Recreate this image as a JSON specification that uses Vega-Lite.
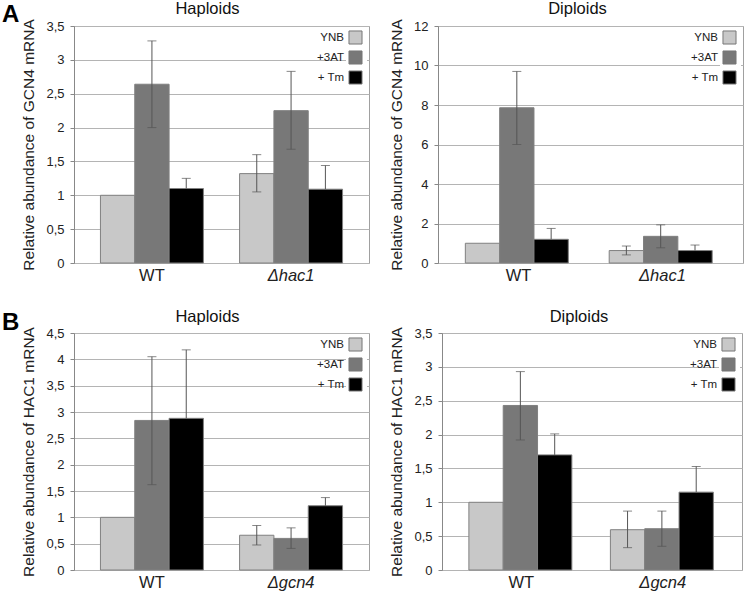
{
  "$schema": "https://vega.github.io/schema/vega-lite/v6.json",
  "padding": {"left": 2, "top": 0, "right": 2, "bottom": 0},
  "config": {
    "font": "Liberation Sans",
    "view": {"stroke": "#a0a0a0", "strokeWidth": 1},
    "axis": {"labelColor": "#222", "titleColor": "#222", "titleFontWeight": "normal", "gridColor": "#b4b4b4", "domainColor": "#888", "tickColor": "#888"},
    "axisY": {"labelFontSize": 13, "titleFontSize": 15.5, "tickSize": 4, "labelPadding": 6, "titlePadding": 9, "grid": true},
    "axisX": {"labelFontSize": 16.5, "ticks": false, "labelAngle": 0, "title": null, "grid": false, "labelPadding": 4, "domain": false},
    "title": {"fontSize": 16.5, "fontWeight": "normal", "color": "#111", "offset": 1},
    "legend": {
      "orient": "top-right", "offset": 2, "padding": 2, "fillColor": "white",
      "symbolType": "square", "symbolSize": 170, "symbolStrokeColor": "#777", "symbolStrokeWidth": 1,
      "labelFontSize": 11.5, "labelColor": "#222", "rowPadding": 1, "title": null,
      "labelAlign": "right", "labelOffset": -19
    }
  },
  "datasets": {
    "aHap": [
      {"strain": "WT", "cond": "YNB", "value": 1.0, "lo": null, "hi": null},
      {"strain": "WT", "cond": "+3AT", "value": 2.64, "lo": 2.0, "hi": 3.28},
      {"strain": "WT", "cond": "+ Tm", "value": 1.10, "lo": 1.10, "hi": 1.25},
      {"strain": "Δhac1", "cond": "YNB", "value": 1.32, "lo": 1.05, "hi": 1.60},
      {"strain": "Δhac1", "cond": "+3AT", "value": 2.25, "lo": 1.68, "hi": 2.83},
      {"strain": "Δhac1", "cond": "+ Tm", "value": 1.09, "lo": 1.09, "hi": 1.44}
    ],
    "aDip": [
      {"strain": "WT", "cond": "YNB", "value": 1.0, "lo": null, "hi": null},
      {"strain": "WT", "cond": "+3AT", "value": 7.86, "lo": 6.0, "hi": 9.70},
      {"strain": "WT", "cond": "+ Tm", "value": 1.20, "lo": 1.20, "hi": 1.75},
      {"strain": "Δhac1", "cond": "YNB", "value": 0.63, "lo": 0.41, "hi": 0.86},
      {"strain": "Δhac1", "cond": "+3AT", "value": 1.35, "lo": 0.77, "hi": 1.93},
      {"strain": "Δhac1", "cond": "+ Tm", "value": 0.63, "lo": 0.63, "hi": 0.91}
    ],
    "bHap": [
      {"strain": "WT", "cond": "YNB", "value": 1.0, "lo": null, "hi": null},
      {"strain": "WT", "cond": "+3AT", "value": 2.84, "lo": 1.62, "hi": 4.05},
      {"strain": "WT", "cond": "+ Tm", "value": 2.88, "lo": 2.88, "hi": 4.18},
      {"strain": "Δgcn4", "cond": "YNB", "value": 0.66, "lo": 0.475, "hi": 0.845},
      {"strain": "Δgcn4", "cond": "+3AT", "value": 0.60, "lo": 0.41, "hi": 0.80},
      {"strain": "Δgcn4", "cond": "+ Tm", "value": 1.22, "lo": 1.22, "hi": 1.375}
    ],
    "bDip": [
      {"strain": "WT", "cond": "YNB", "value": 1.0, "lo": null, "hi": null},
      {"strain": "WT", "cond": "+3AT", "value": 2.43, "lo": 1.92, "hi": 2.93},
      {"strain": "WT", "cond": "+ Tm", "value": 1.70, "lo": 1.70, "hi": 2.01},
      {"strain": "Δgcn4", "cond": "YNB", "value": 0.595, "lo": 0.33, "hi": 0.87},
      {"strain": "Δgcn4", "cond": "+3AT", "value": 0.61, "lo": 0.35, "hi": 0.87},
      {"strain": "Δgcn4", "cond": "+ Tm", "value": 1.15, "lo": 1.15, "hi": 1.53}
    ]
  },
  "vconcat": [
    {
      "title": {"text": "A", "orient": "left", "angle": 0, "anchor": "end", "align": "left", "baseline": "top", "fontSize": 24, "fontWeight": "bold", "color": "#000", "offset": 2, "dy": 2},
      "spacing": 19,
      "resolve": {"scale": {"color": "independent"}, "legend": {"color": "independent"}},
      "hconcat": [
        {
          "width": 295, "height": 237,
          "title": {"text": "Haploids", "frame": "group", "dx": -14},
          "data": {"name": "aHap"},
          "encoding": {
            "x": {"field": "strain", "type": "nominal", "sort": ["WT", "Δhac1"], "scale": {"paddingInner": 0.26, "paddingOuter": 0.19},
                  "axis": {"labelFontStyle": {"condition": {"test": "datum.value == 'WT'", "value": "normal"}, "value": "italic"}}},
            "xOffset": {"field": "cond", "type": "nominal", "sort": ["YNB", "+3AT", "+ Tm"], "scale": {"paddingInner": 0, "paddingOuter": 0}}
          },
          "layer": [
            {"mark": {"type": "bar", "stroke": "#808080", "strokeWidth": 1},
             "encoding": {
               "y": {"field": "value", "type": "quantitative", "title": "Relative abundance of GCN4 mRNA", "scale": {"domain": [0, 3.5], "nice": false},
                     "axis": {"values": [0, 0.5, 1, 1.5, 2, 2.5, 3, 3.5], "labelExpr": "replace(toString(datum.value), '.', ',')"}},
               "color": {"field": "cond", "type": "nominal", "scale": {"domain": ["YNB", "+3AT", "+ Tm"], "range": ["#c8c8c8", "#787878", "#000000"]}}
             }},
            {"transform": [{"filter": "datum.hi != null"}], "mark": {"type": "rule", "color": "#555", "strokeWidth": 1},
             "encoding": {"y": {"field": "lo", "type": "quantitative", "title": "Relative abundance of GCN4 mRNA", "scale": {"domain": [0, 3.5], "nice": false},
                     "axis": {"values": [0, 0.5, 1, 1.5, 2, 2.5, 3, 3.5], "labelExpr": "replace(toString(datum.value), '.', ',')"}}, "y2": {"field": "hi"}}},
            {"transform": [{"filter": "datum.hi != null"}], "mark": {"type": "tick", "color": "#555", "size": 9, "thickness": 1},
             "encoding": {"y": {"field": "hi", "type": "quantitative", "title": "Relative abundance of GCN4 mRNA", "scale": {"domain": [0, 3.5], "nice": false},
                     "axis": {"values": [0, 0.5, 1, 1.5, 2, 2.5, 3, 3.5], "labelExpr": "replace(toString(datum.value), '.', ',')"}}}},
            {"transform": [{"filter": "datum.hi != null && datum.cond != '+ Tm'"}], "mark": {"type": "tick", "color": "#555", "size": 9, "thickness": 1},
             "encoding": {"y": {"field": "lo", "type": "quantitative", "title": "Relative abundance of GCN4 mRNA", "scale": {"domain": [0, 3.5], "nice": false},
                     "axis": {"values": [0, 0.5, 1, 1.5, 2, 2.5, 3, 3.5], "labelExpr": "replace(toString(datum.value), '.', ',')"}}}}
          ]
        },
        {
          "width": 305, "height": 237,
          "title": {"text": "Diploids", "frame": "group", "dx": -13},
          "data": {"name": "aDip"},
          "encoding": {
            "x": {"field": "strain", "type": "nominal", "sort": ["WT", "Δhac1"], "scale": {"paddingInner": 0.26, "paddingOuter": 0.19},
                  "axis": {"labelFontStyle": {"condition": {"test": "datum.value == 'WT'", "value": "normal"}, "value": "italic"}}},
            "xOffset": {"field": "cond", "type": "nominal", "sort": ["YNB", "+3AT", "+ Tm"], "scale": {"paddingInner": 0, "paddingOuter": 0}}
          },
          "layer": [
            {"mark": {"type": "bar", "stroke": "#808080", "strokeWidth": 1},
             "encoding": {
               "y": {"field": "value", "type": "quantitative", "title": "Relative abundance of GCN4 mRNA", "scale": {"domain": [0, 12], "nice": false},
                     "axis": {"values": [0, 2, 4, 6, 8, 10, 12]}},
               "color": {"field": "cond", "type": "nominal", "scale": {"domain": ["YNB", "+3AT", "+ Tm"], "range": ["#c8c8c8", "#787878", "#000000"]}}
             }},
            {"transform": [{"filter": "datum.hi != null"}], "mark": {"type": "rule", "color": "#555", "strokeWidth": 1},
             "encoding": {"y": {"field": "lo", "type": "quantitative", "title": "Relative abundance of GCN4 mRNA", "scale": {"domain": [0, 12], "nice": false},
                     "axis": {"values": [0, 2, 4, 6, 8, 10, 12]}}, "y2": {"field": "hi"}}},
            {"transform": [{"filter": "datum.hi != null"}], "mark": {"type": "tick", "color": "#555", "size": 9, "thickness": 1},
             "encoding": {"y": {"field": "hi", "type": "quantitative", "title": "Relative abundance of GCN4 mRNA", "scale": {"domain": [0, 12], "nice": false},
                     "axis": {"values": [0, 2, 4, 6, 8, 10, 12]}}}},
            {"transform": [{"filter": "datum.hi != null && datum.cond != '+ Tm'"}], "mark": {"type": "tick", "color": "#555", "size": 9, "thickness": 1},
             "encoding": {"y": {"field": "lo", "type": "quantitative", "title": "Relative abundance of GCN4 mRNA", "scale": {"domain": [0, 12], "nice": false},
                     "axis": {"values": [0, 2, 4, 6, 8, 10, 12]}}}}
          ]
        }
      ]
    },
    {
      "title": {"text": "B", "orient": "left", "angle": 0, "anchor": "end", "align": "left", "baseline": "top", "fontSize": 24, "fontWeight": "bold", "color": "#000", "offset": 2, "dy": 2},
      "spacing": 19,
      "resolve": {"scale": {"color": "independent"}, "legend": {"color": "independent"}},
      "hconcat": [
        {
          "width": 295, "height": 237,
          "title": {"text": "Haploids", "frame": "group", "dx": -14},
          "data": {"name": "bHap"},
          "encoding": {
            "x": {"field": "strain", "type": "nominal", "sort": ["WT", "Δgcn4"], "scale": {"paddingInner": 0.26, "paddingOuter": 0.19},
                  "axis": {"labelFontStyle": {"condition": {"test": "datum.value == 'WT'", "value": "normal"}, "value": "italic"}}},
            "xOffset": {"field": "cond", "type": "nominal", "sort": ["YNB", "+3AT", "+ Tm"], "scale": {"paddingInner": 0, "paddingOuter": 0}}
          },
          "layer": [
            {"mark": {"type": "bar", "stroke": "#808080", "strokeWidth": 1},
             "encoding": {
               "y": {"field": "value", "type": "quantitative", "title": "Relative abundance of HAC1 mRNA", "scale": {"domain": [0, 4.5], "nice": false},
                     "axis": {"values": [0, 0.5, 1, 1.5, 2, 2.5, 3, 3.5, 4, 4.5], "labelExpr": "replace(toString(datum.value), '.', ',')"}},
               "color": {"field": "cond", "type": "nominal", "scale": {"domain": ["YNB", "+3AT", "+ Tm"], "range": ["#c8c8c8", "#787878", "#000000"]}}
             }},
            {"transform": [{"filter": "datum.hi != null"}], "mark": {"type": "rule", "color": "#555", "strokeWidth": 1},
             "encoding": {"y": {"field": "lo", "type": "quantitative", "title": "Relative abundance of HAC1 mRNA", "scale": {"domain": [0, 4.5], "nice": false},
                     "axis": {"values": [0, 0.5, 1, 1.5, 2, 2.5, 3, 3.5, 4, 4.5], "labelExpr": "replace(toString(datum.value), '.', ',')"}}, "y2": {"field": "hi"}}},
            {"transform": [{"filter": "datum.hi != null"}], "mark": {"type": "tick", "color": "#555", "size": 9, "thickness": 1},
             "encoding": {"y": {"field": "hi", "type": "quantitative", "title": "Relative abundance of HAC1 mRNA", "scale": {"domain": [0, 4.5], "nice": false},
                     "axis": {"values": [0, 0.5, 1, 1.5, 2, 2.5, 3, 3.5, 4, 4.5], "labelExpr": "replace(toString(datum.value), '.', ',')"}}}},
            {"transform": [{"filter": "datum.hi != null && datum.cond != '+ Tm'"}], "mark": {"type": "tick", "color": "#555", "size": 9, "thickness": 1},
             "encoding": {"y": {"field": "lo", "type": "quantitative", "title": "Relative abundance of HAC1 mRNA", "scale": {"domain": [0, 4.5], "nice": false},
                     "axis": {"values": [0, 0.5, 1, 1.5, 2, 2.5, 3, 3.5, 4, 4.5], "labelExpr": "replace(toString(datum.value), '.', ',')"}}}}
          ]
        },
        {
          "width": 300, "height": 237,
          "title": {"text": "Diploids", "frame": "group", "dx": -13},
          "data": {"name": "bDip"},
          "encoding": {
            "x": {"field": "strain", "type": "nominal", "sort": ["WT", "Δgcn4"], "scale": {"paddingInner": 0.26, "paddingOuter": 0.19},
                  "axis": {"labelFontStyle": {"condition": {"test": "datum.value == 'WT'", "value": "normal"}, "value": "italic"}}},
            "xOffset": {"field": "cond", "type": "nominal", "sort": ["YNB", "+3AT", "+ Tm"], "scale": {"paddingInner": 0, "paddingOuter": 0}}
          },
          "layer": [
            {"mark": {"type": "bar", "stroke": "#808080", "strokeWidth": 1},
             "encoding": {
               "y": {"field": "value", "type": "quantitative", "title": "Relative abundance of HAC1 mRNA", "scale": {"domain": [0, 3.5], "nice": false},
                     "axis": {"values": [0, 0.5, 1, 1.5, 2, 2.5, 3, 3.5], "labelExpr": "replace(toString(datum.value), '.', ',')"}},
               "color": {"field": "cond", "type": "nominal", "scale": {"domain": ["YNB", "+3AT", "+ Tm"], "range": ["#c8c8c8", "#787878", "#000000"]}}
             }},
            {"transform": [{"filter": "datum.hi != null"}], "mark": {"type": "rule", "color": "#555", "strokeWidth": 1},
             "encoding": {"y": {"field": "lo", "type": "quantitative", "title": "Relative abundance of HAC1 mRNA", "scale": {"domain": [0, 3.5], "nice": false},
                     "axis": {"values": [0, 0.5, 1, 1.5, 2, 2.5, 3, 3.5], "labelExpr": "replace(toString(datum.value), '.', ',')"}}, "y2": {"field": "hi"}}},
            {"transform": [{"filter": "datum.hi != null"}], "mark": {"type": "tick", "color": "#555", "size": 9, "thickness": 1},
             "encoding": {"y": {"field": "hi", "type": "quantitative", "title": "Relative abundance of HAC1 mRNA", "scale": {"domain": [0, 3.5], "nice": false},
                     "axis": {"values": [0, 0.5, 1, 1.5, 2, 2.5, 3, 3.5], "labelExpr": "replace(toString(datum.value), '.', ',')"}}}},
            {"transform": [{"filter": "datum.hi != null && datum.cond != '+ Tm'"}], "mark": {"type": "tick", "color": "#555", "size": 9, "thickness": 1},
             "encoding": {"y": {"field": "lo", "type": "quantitative", "title": "Relative abundance of HAC1 mRNA", "scale": {"domain": [0, 3.5], "nice": false},
                     "axis": {"values": [0, 0.5, 1, 1.5, 2, 2.5, 3, 3.5], "labelExpr": "replace(toString(datum.value), '.', ',')"}}}}
          ]
        }
      ]
    }
  ],
  "spacing": 24,
  "resolve": {"scale": {"color": "independent"}, "legend": {"color": "independent"}}
}
